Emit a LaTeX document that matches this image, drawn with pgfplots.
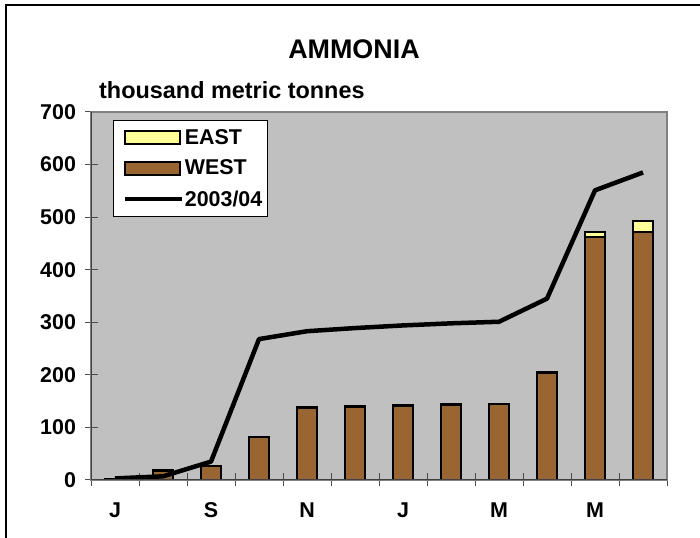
\documentclass[border=0pt]{standalone}
\usepackage{pgfplots}
\pgfplotsset{compat=1.18}
\usepackage{fontspec}
\setmainfont{Liberation Sans}
\definecolor{plotgray}{HTML}{C0C0C0}
\definecolor{westc}{HTML}{996633}
\definecolor{eastc}{HTML}{FFFF99}
\begin{document}
\begin{tikzpicture}[x=1bp,y=1bp]
\useasboundingbox (0,0) rectangle (700,538);
\draw[line width=1.5bp] (6,0) -- (6,533) -- (700,533);
\node[font=\bfseries\fontsize{27}{32}\selectfont] at (354,489) {AMMONIA};
\node[font=\bfseries\fontsize{23.5}{27}\selectfont, anchor=west, inner sep=0pt] at (99,448) {thousand metric tonnes};
\begin{axis}[
  at={(91bp,58bp)}, anchor=south west,
  scale only axis, width=576bp, height=368bp,
  xmin=-0.5, xmax=11.5, ymin=0, ymax=700,
  ytick={0,100,...,700},
  xtick={-0.5,0.5,...,11.5}, xticklabels={},
  extra x ticks={0,2,4,6,8,10}, extra x tick labels={J,S,N,J,M,M},
  extra x tick style={major tick length=0pt, xticklabel style={yshift=-19bp}},
  tick pos=left,
  tick align=center, major tick length=13bp,
  tick style={black!70, line width=1bp},
  axis background/.style={fill=plotgray},
  axis line style={draw=gray, line width=1.5bp},
  ticklabel style={font=\bfseries\fontsize{21.5}{25}\selectfont},
  yticklabel style={xshift=-5bp},
  /pgf/number format/assume math mode=true,
  legend style={at={(rel axis cs:0.038,0.978)}, anchor=north west,
    draw=black, line width=1bp, fill=white,
    font=\bfseries\fontsize{21.5}{25}\selectfont,
    inner xsep=4bp, inner ysep=7bp, row sep=10bp,
    nodes={inner xsep=1bp, inner ysep=2bp}},
  legend cell align=left,
]
\addlegendimage{legend image code/.code={\path (0bp,0bp); \draw[fill=eastc, draw=black, line width=2bp] (5bp,-6.5bp) rectangle (60bp,6.5bp);}}
\addlegendentry{EAST}
\addlegendimage{legend image code/.code={\path (0bp,0bp); \draw[fill=westc, draw=black, line width=2bp] (5bp,-6.5bp) rectangle (60bp,6.5bp);}}
\addlegendentry{WEST}
% EAST (drawn as WEST+EAST total)
\addplot[ybar, bar width=20bp, bar shift=0pt, fill=eastc, draw=black, line width=2bp, forget plot]
  coordinates {(0,2) (1,19) (2,26) (3,82) (4,138) (5,140) (6,142) (7,144) (8,145) (9,206) (10,471) (11,492)};
% WEST
\addplot[ybar, bar width=20bp, bar shift=0pt, fill=westc, draw=black, line width=2bp, forget plot]
  coordinates {(0,2) (1,17) (2,26) (3,82) (4,137) (5,139) (6,141) (7,143) (8,144) (9,203) (10,462) (11,471)};
% 2003/04
\addplot[black, line width=4.5bp, line join=round, mark=none, sharp plot,
  legend image code/.code={\path (0bp,0bp); \draw[black, line width=4.5bp] (5bp,0bp) -- (62bp,0bp);}]
  coordinates {(0,3) (1,7) (2,35) (3,268) (4,283) (5,289) (6,294) (7,298) (8,301) (9,345) (10,551) (11,585)};
\addlegendentry{2003/04}
\draw[black!75, line width=1.5bp] (rel axis cs:0,1) -- (rel axis cs:0,0) -- (rel axis cs:1,0);
\end{axis}
\end{tikzpicture}
\end{document}
